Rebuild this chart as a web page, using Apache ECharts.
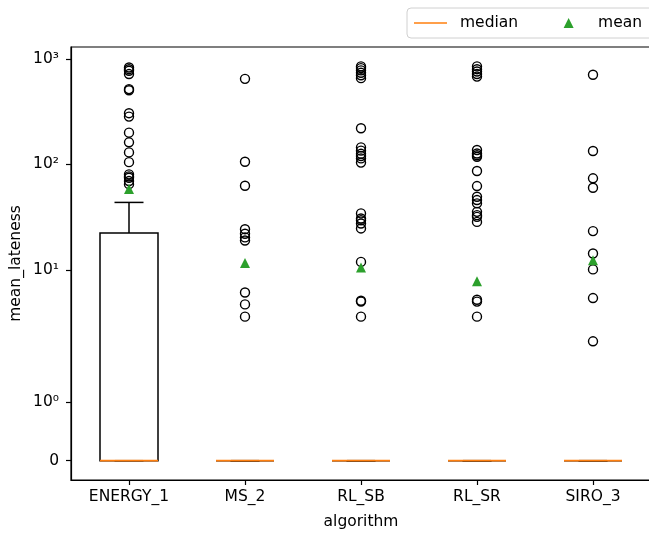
<!DOCTYPE html>
<html><head><meta charset="utf-8">
<script src="https://cdn.jsdelivr.net/npm/echarts@6/dist/echarts.min.js"></script>
<style>html,body{margin:0;padding:0;background:#fff}#c{width:649px;height:533px}</style>
</head><body><div id="c"></div>
<script>
const categories = ['ENERGY_1', 'MS_2', 'RL_SB', 'RL_SR', 'SIRO_3'];
// [lower whisker, Q1, median, Q3, upper whisker]
const boxLow    = [0, 0, 0, 0, 0];
const boxQ1     = [0, 0, 0, 0, 0];
const boxMedian = [0, 0, 0, 0, 0];
const boxQ3     = [22.3, 0, 0, 0, 0];
const boxHigh   = [43.6, 0, 0, 0, 0];
const means     = [58.4, 11.6, 10.5, 7.8, 12.3];
const outliersENERGY_1 = [830, 800, 772, 719, 518, 505, 306, 284, 200, 162, 130, 105, 80.5, 77, 74.7, 69.5, 65];
const outliersMS_2     = [648, 106, 62.7, 24.3, 22.0, 20.3, 19.0, 6.1, 4.7, 3.6];
const outliersRL_SB    = [850, 819, 780, 740, 700, 658, 220, 145, 135, 126, 120, 114, 104, 34.3, 30.7, 29.5, 27.5, 24.7, 11.9, 5.1, 5.0, 3.6];
const outliersRL_SR    = [850, 800, 760, 720, 680, 137, 127, 122, 118, 86.5, 62.3, 49.3, 45.9, 42.7, 35.5, 33, 31.8, 28.5, 5.2, 5.0, 3.6];
const outliersSIRO_3   = [708, 134, 73.8, 60, 23.3, 14.3, 10.1, 5.4, 2.1];
const yTickValues = [0, 1, 10, 100, 1000];
const yTickLabels = ['0', '10\u2070', '10\u00b9', '10\u00b2', '10\u00b3'];

const outliers = [outliersENERGY_1, outliersMS_2, outliersRL_SB, outliersRL_SR, outliersSIRO_3];
const LINTHRESH = 2, LINSCALE_ADJ = 1 / (1 - 1 / 10);
function symlog(v) {
  const a = Math.abs(v);
  if (a <= LINTHRESH) return v * LINSCALE_ADJ;
  return Math.sign(v) * LINTHRESH * (LINSCALE_ADJ + Math.log10(a / LINTHRESH));
}
const FONT = 'DejaVu Sans';
const FS = 15.5;
const tickT = yTickValues.map(symlog);

const boxData = categories.map((c, i) => [i, symlog(boxLow[i]), symlog(boxQ1[i]), symlog(boxMedian[i]), symlog(boxQ3[i]), symlog(boxHigh[i])]);
const medianData = categories.map((c, i) => [i, symlog(boxMedian[i])]);
const meanData = categories.map((c, i) => [i, symlog(means[i])]);
const outlierData = [];
outliers.forEach((arr, i) => arr.forEach(v => outlierData.push([i, symlog(v)])));

const chart = echarts.init(document.getElementById('c'), null, {renderer: 'canvas'});
chart.setOption({
  animation: false,
  backgroundColor: '#fff',
  textStyle: {fontFamily: FONT},
  grid: {left: 71, top: 47, width: 580, height: 433, outerBoundsMode: 'none', containLabel: false,
         show: true, borderColor: '#000', borderWidth: 1.2, backgroundColor: 'transparent'},
  legend: {
    left: 407, top: 8, width: 260, orient: 'horizontal',
    padding: [7, 14, 7, 7],
    itemWidth: 33, itemHeight: 10, itemGap: 34,
    borderColor: '#d0d0d0', borderWidth: 1, borderRadius: 4, backgroundColor: '#fff',
    textStyle: {fontFamily: FONT, fontSize: FS, color: '#000', padding: [0, 0, 0, 8]},
    data: [
      {name: 'median', icon: 'path://M0,0 L33,0 L33,1.5 L0,1.5 Z', itemStyle: {color: '#ff7f0e'}},
      {name: 'mean', icon: 'path://M0,0 M33,10 M16.5,0 L21.5,10 L11.5,10 Z', itemStyle: {color: '#2ca02c', opacity: 1}}
    ]
  },
  xAxis: {
    type: 'category', data: categories, boundaryGap: true,
    name: 'algorithm', nameLocation: 'middle', nameGap: 34, nameMoveOverlap: false,
    nameTextStyle: {fontFamily: FONT, fontSize: FS, color: '#000'},
    axisLine: {show: true, onZero: false, lineStyle: {color: '#000', width: 1.2}},
    axisTick: {show: true, alignWithLabel: true, length: 5, lineStyle: {color: '#000', width: 1.2}},
    axisLabel: {fontFamily: FONT, fontSize: FS, color: '#000', margin: 9},
    splitLine: {show: false}
  },
  yAxis: {
    type: 'value', min: -0.366, max: 7.847,
    name: 'mean_lateness', nameLocation: 'middle', nameGap: 47, nameRotate: 90, nameMoveOverlap: false,
    nameTextStyle: {fontFamily: FONT, fontSize: FS, color: '#000'},
    axisLine: {show: true, onZero: false, lineStyle: {color: '#000', width: 1.2}},
    axisTick: {show: true, length: 5, customValues: tickT, lineStyle: {color: '#000', width: 1.2}},
    axisLabel: {
      customValues: tickT, margin: 12, color: '#000', fontFamily: FONT, fontSize: FS,
      formatter: function (val) {
        let best = 0, d = Infinity;
        tickT.forEach((t, k) => { if (Math.abs(t - val) < d) { d = Math.abs(t - val); best = k; } });
        return yTickLabels[best];
      }
    },
    splitLine: {show: false}
  },
  series: [
    {
      name: 'box', type: 'custom', z: 2,
      data: boxData,
      encode: {x: 0, y: [1, 2, 3, 4, 5]},
      renderItem: function (params, api) {
        const i = api.value(0);
        const band = api.size([1, 0])[0];
        const half = band * 0.25, capHalf = band * 0.125;
        const pLo = api.coord([i, api.value(1)]);
        const pQ1 = api.coord([i, api.value(2)]);
        const pQ3 = api.coord([i, api.value(4)]);
        const pHi = api.coord([i, api.value(5)]);
        const cx = pQ1[0];
        const st = {stroke: '#000', lineWidth: 1.5, fill: null};
        return {
          type: 'group',
          children: [
            {type: 'rect', shape: {x: cx - half, y: pQ3[1], width: 2 * half, height: pQ1[1] - pQ3[1]}, style: st},
            {type: 'line', shape: {x1: cx, y1: pQ1[1], x2: cx, y2: pLo[1]}, style: st},
            {type: 'line', shape: {x1: cx, y1: pQ3[1], x2: cx, y2: pHi[1]}, style: st},
            {type: 'line', shape: {x1: cx - capHalf, y1: pLo[1], x2: cx + capHalf, y2: pLo[1]}, style: st},
            {type: 'line', shape: {x1: cx - capHalf, y1: pHi[1], x2: cx + capHalf, y2: pHi[1]}, style: st}
          ]
        };
      }
    },
    {
      name: 'fliers', type: 'scatter', z: 3,
      data: outlierData,
      symbol: 'circle', symbolSize: 9,
      itemStyle: {color: 'rgba(0,0,0,0)', borderColor: '#000', borderWidth: 1.4, opacity: 1}
    },
    {
      name: 'median', type: 'custom', z: 4,
      data: medianData,
      encode: {x: 0, y: 1},
      itemStyle: {color: '#ff7f0e'},
      renderItem: function (params, api) {
        const i = api.value(0);
        const band = api.size([1, 0])[0];
        const half = band * 0.25;
        const p = api.coord([i, api.value(1)]);
        return {type: 'line', shape: {x1: p[0] - half, y1: p[1], x2: p[0] + half, y2: p[1]}, style: {stroke: '#ff7f0e', lineWidth: 1.8}};
      }
    },
    {
      name: 'mean', type: 'scatter', z: 5,
      data: meanData,
      symbol: 'triangle', symbolSize: 10,
      itemStyle: {color: '#2ca02c', opacity: 1}
    }
  ]
});
</script>
</body></html>
